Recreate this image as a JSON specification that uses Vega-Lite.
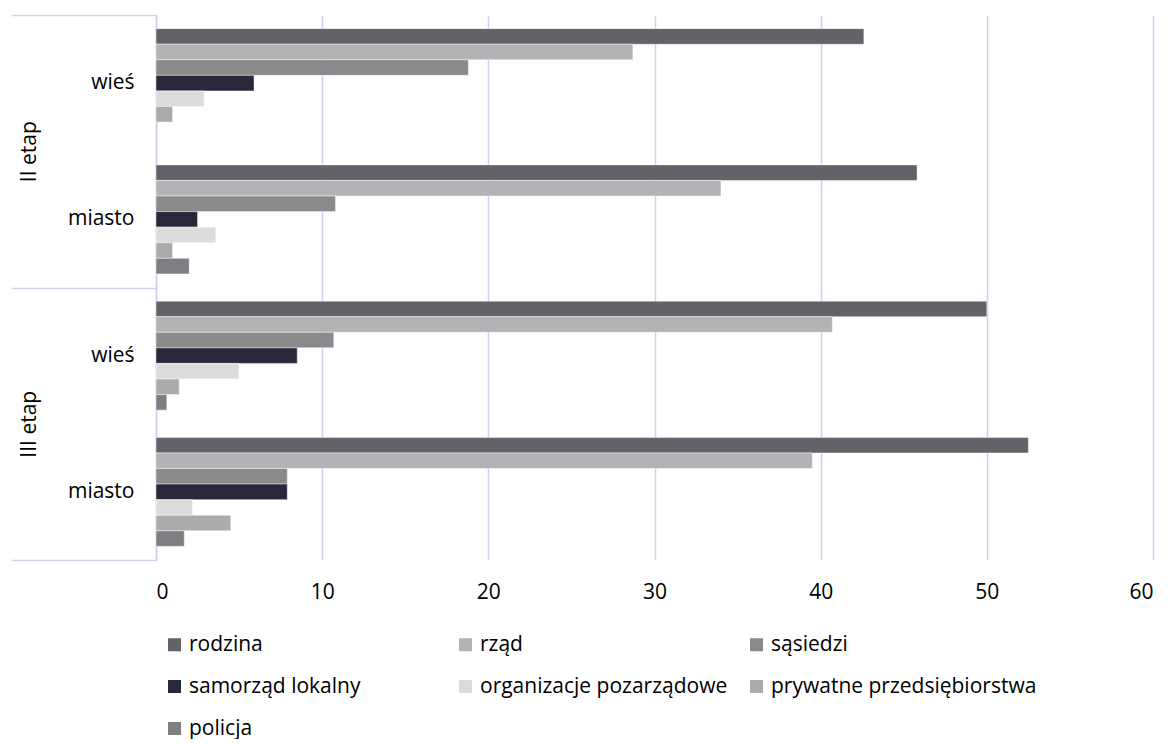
{
  "$schema": "https://vega.github.io/schema/vega-lite/v6.json",
  "width": 997,
  "height": 545,
  "padding": {"left": 10, "top": 14, "right": 5, "bottom": 0},
  "background": "white",
  "config": {
    "font": "Open Sans",
    "view": {"stroke": null},
    "axis": {"labelFont": "Open Sans", "labelColor": "#000000", "labelFontSize": 21, "titleFont": "Open Sans"},
    "legend": {"labelFont": "Open Sans", "labelFontSize": 21, "labelColor": "#000000"}
  },
  "data": {
    "values": [
      {"etap": "II etap", "grupa": "II etap|wieś", "seria": "rodzina", "wartosc": 42.6},
      {"etap": "II etap", "grupa": "II etap|wieś", "seria": "rząd", "wartosc": 28.7},
      {"etap": "II etap", "grupa": "II etap|wieś", "seria": "sąsiedzi", "wartosc": 18.8},
      {"etap": "II etap", "grupa": "II etap|wieś", "seria": "samorząd lokalny", "wartosc": 5.9},
      {"etap": "II etap", "grupa": "II etap|wieś", "seria": "organizacje pozarządowe", "wartosc": 2.9},
      {"etap": "II etap", "grupa": "II etap|wieś", "seria": "prywatne przedsiębiorstwa", "wartosc": 1.0},
      {"etap": "II etap", "grupa": "II etap|miasto", "seria": "rodzina", "wartosc": 45.8},
      {"etap": "II etap", "grupa": "II etap|miasto", "seria": "rząd", "wartosc": 34.0},
      {"etap": "II etap", "grupa": "II etap|miasto", "seria": "sąsiedzi", "wartosc": 10.8},
      {"etap": "II etap", "grupa": "II etap|miasto", "seria": "samorząd lokalny", "wartosc": 2.5},
      {"etap": "II etap", "grupa": "II etap|miasto", "seria": "organizacje pozarządowe", "wartosc": 3.6},
      {"etap": "II etap", "grupa": "II etap|miasto", "seria": "prywatne przedsiębiorstwa", "wartosc": 1.0},
      {"etap": "II etap", "grupa": "II etap|miasto", "seria": "policja", "wartosc": 2.0},
      {"etap": "III etap", "grupa": "III etap|wieś", "seria": "rodzina", "wartosc": 50.0},
      {"etap": "III etap", "grupa": "III etap|wieś", "seria": "rząd", "wartosc": 40.7},
      {"etap": "III etap", "grupa": "III etap|wieś", "seria": "sąsiedzi", "wartosc": 10.7},
      {"etap": "III etap", "grupa": "III etap|wieś", "seria": "samorząd lokalny", "wartosc": 8.5},
      {"etap": "III etap", "grupa": "III etap|wieś", "seria": "organizacje pozarządowe", "wartosc": 5.0},
      {"etap": "III etap", "grupa": "III etap|wieś", "seria": "prywatne przedsiębiorstwa", "wartosc": 1.4},
      {"etap": "III etap", "grupa": "III etap|wieś", "seria": "policja", "wartosc": 0.65},
      {"etap": "III etap", "grupa": "III etap|miasto", "seria": "rodzina", "wartosc": 52.5},
      {"etap": "III etap", "grupa": "III etap|miasto", "seria": "rząd", "wartosc": 39.5},
      {"etap": "III etap", "grupa": "III etap|miasto", "seria": "sąsiedzi", "wartosc": 7.9},
      {"etap": "III etap", "grupa": "III etap|miasto", "seria": "samorząd lokalny", "wartosc": 7.9},
      {"etap": "III etap", "grupa": "III etap|miasto", "seria": "organizacje pozarządowe", "wartosc": 2.2},
      {"etap": "III etap", "grupa": "III etap|miasto", "seria": "prywatne przedsiębiorstwa", "wartosc": 4.5},
      {"etap": "III etap", "grupa": "III etap|miasto", "seria": "policja", "wartosc": 1.7}
    ]
  },
  "resolve": {"scale": {"y": "independent"}, "axis": {"y": "independent"}},
  "layer": [
    {
      "mark": {"type": "bar", "stroke": "#ffffff", "strokeWidth": 1, "strokeOpacity": 0.45},
      "encoding": {
        "y": {
          "field": "grupa", "type": "nominal",
          "sort": ["II etap|wieś", "II etap|miasto", "III etap|wieś", "III etap|miasto"],
          "scale": {"paddingInner": 0.2, "paddingOuter": 0.1},
          "axis": {
            "orient": "left", "title": null, "ticks": false, "grid": false,
            "labelExpr": "split(datum.label, '|')[1]",
            "labelPadding": 22, "domain": true, "domainColor": "#d3cff2", "domainWidth": 1.5
          }
        },
        "yOffset": {
          "field": "seria", "type": "nominal",
          "sort": ["rodzina", "rząd", "sąsiedzi", "samorząd lokalny", "organizacje pozarządowe", "prywatne przedsiębiorstwa", "policja"],
          "scale": {"paddingInner": 0, "paddingOuter": 0}
        },
        "x": {
          "field": "wartosc", "type": "quantitative",
          "scale": {"domain": [0, 60], "nice": false},
          "axis": {
            "title": null, "values": [0, 10, 20, 30, 40, 50, 60], "grid": true,
            "gridColor": "#d3cff2", "gridWidth": 1.5, "domain": false, "ticks": false, "tickSize": 0,
            "labelPadding": 21
          }
        },
        "color": {
          "field": "seria", "type": "nominal",
          "scale": {
            "domain": ["rodzina", "rząd", "sąsiedzi", "samorząd lokalny", "organizacje pozarządowe", "prywatne przedsiębiorstwa", "policja"],
            "range": ["#636268", "#b3b3b5", "#8a8a8c", "#28283a", "#dcdcdc", "#ababab", "#7f7e82"]
          },
          "legend": {
            "title": null, "orient": "none", "legendX": 8, "legendY": 619,
            "direction": "horizontal", "columns": 3, "gridAlign": "all",
            "symbolType": "square", "symbolSize": 170, "symbolStrokeWidth": 0,
            "labelOffset": 4, "columnPadding": -2, "rowPadding": 20, "labelLimit": 400
          }
        }
      }
    },
    {
      "mark": {"type": "bar", "opacity": 0},
      "encoding": {
        "y": {
          "field": "etap", "type": "nominal", "sort": ["II etap", "III etap"],
          "scale": {"type": "band", "paddingInner": 0, "paddingOuter": 0},
          "axis": {
            "orient": "left", "title": null, "domain": false, "grid": false,
            "ticks": true, "tickBand": "extent", "tickSize": 145, "tickColor": "#d3cff2", "tickWidth": 1.5,
            "labelAngle": -90, "labelAlign": "center", "labelBaseline": "middle", "labelPadding": -18
          }
        },
        "x": {"field": "wartosc", "type": "quantitative", "stack": null}
      }
    }
  ]
}
